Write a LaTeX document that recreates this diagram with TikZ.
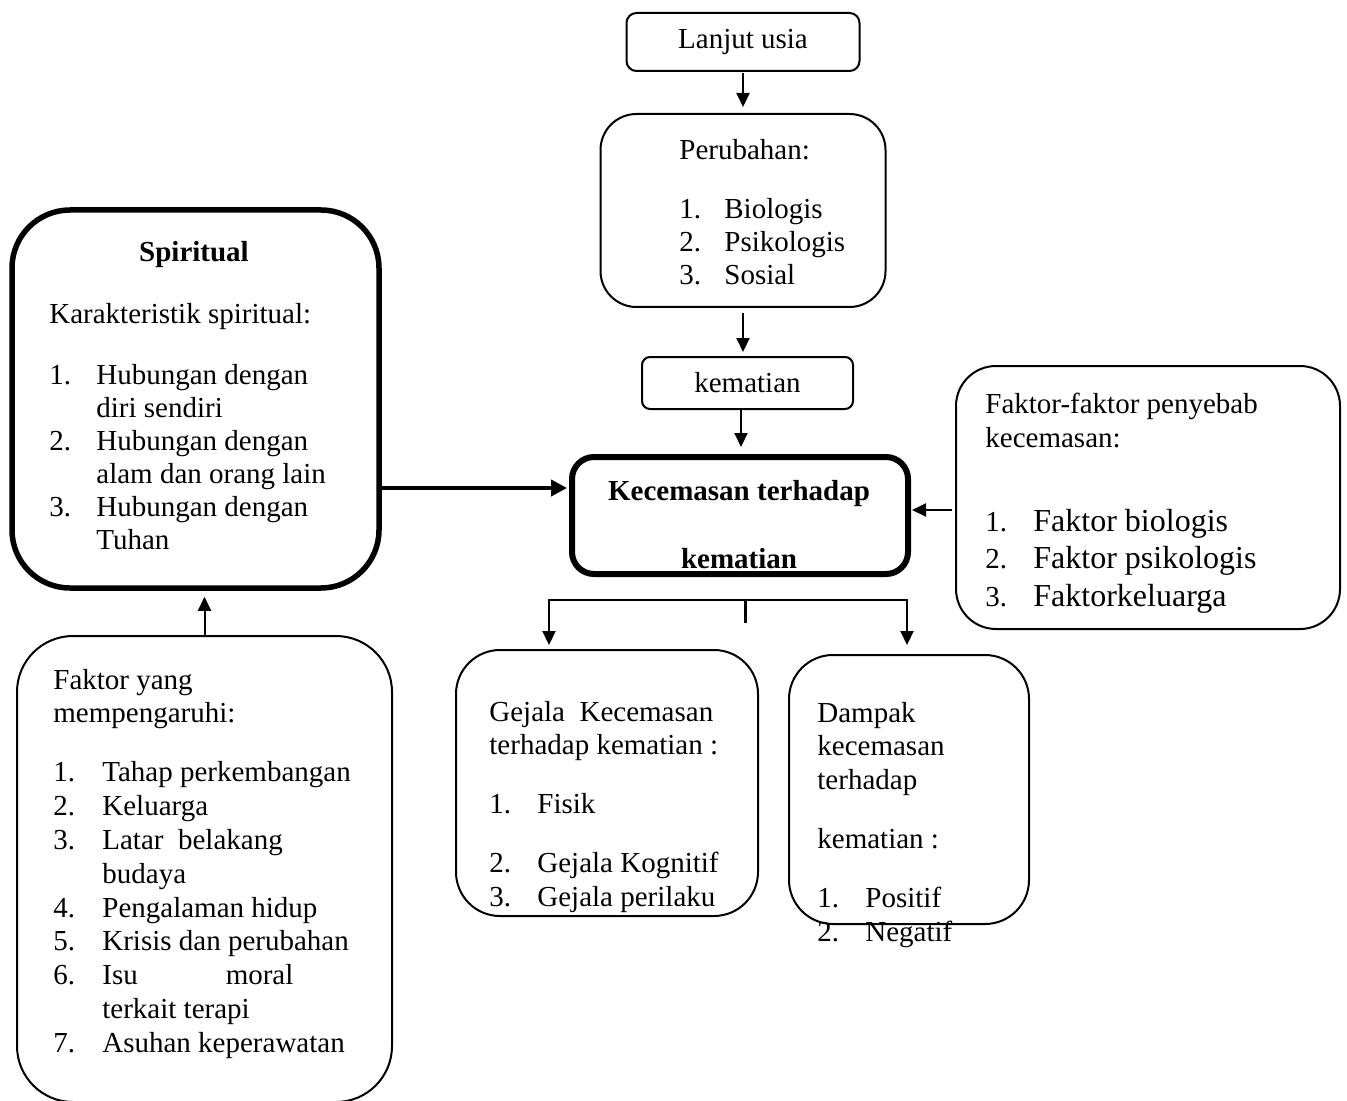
\documentclass[tikz,border=0pt]{standalone}
\usepackage{fontspec}
\setmainfont{Liberation Serif}
\usepackage{array}
\usetikzlibrary{arrows.meta}

\tikzset{
  box/.style={draw, line width=1pt, rounded corners=#1, inner sep=0pt},
  box/.default=20pt,
  bigbox/.style={box=#1, line width=2.75pt},
  txt/.style={inner sep=0pt, anchor=base west},
  arr/.style={line width=1pt, -{Triangle[length=7pt,width=6.5pt]}},
  bigarr/.style={line width=2pt, -{Triangle[length=8pt,width=8pt]}}
}

\begin{document}
\begin{tikzpicture}[x=0.5pt, y=-0.5pt, font=\fontsize{14.5}{16.5}\selectfont]
  \useasboundingbox (0,0) rectangle (1347,1101);

  % Boxes of the main chain
  \node[box=5pt, minimum width=116.5pt, minimum height=29pt] (lanjut) at (743,42) {Lanjut usia};
  \node[box=18pt, minimum width=142.5pt, minimum height=96.5pt] (perubahan) at (743,210.5) {};
  \node[box=4pt, minimum width=105.5pt, minimum height=26pt] (kematian) at (747.5,383) {kematian};
  \node[bigbox=11pt, minimum width=168pt, minimum height=58.5pt, line width=3pt] (kecemasan) at (740,515.5) {};

  % Boxes round it
  \node[bigbox=29pt, minimum width=183.5pt, minimum height=189pt] (spiritual) at (195.5,399) {};
  \node[box=28pt, minimum width=187.5pt, minimum height=233pt] (pengaruh) at (204.5,869) {};
  \node[box=20pt, minimum width=192pt, minimum height=131.5pt] (penyebab) at (1148,497.5) {};
  \node[box=22pt, minimum width=151pt, minimum height=133pt] (gejala) at (607,783) {};
  \node[box=22pt, minimum width=120pt, minimum height=134.5pt] (dampak) at (909,789.5) {};

  % Texts in the boxes
  \node[txt] (tPerubahan) at (679,160) {\begin{tabular}[t]{@{}p{22.5pt}@{}l@{}}
    \multicolumn{2}{@{}l@{}}{Perubahan:}\\[13pt]
    1. & Biologis\\ 2. & Psikologis\\ 3. & Sosial
  \end{tabular}};
  \node[anchor=base, inner sep=0pt] (tKecemasan) at (739,500) {\bfseries\begin{tabular}[t]{@{}c@{}}
    Kecemasan terhadap\\[17.5pt] kematian
  \end{tabular}};
  \node[anchor=base, inner sep=0pt] (tSpiritual) at (194,262) {\bfseries Spiritual};
  \node[txt] (tKarakter) at (49,323) {\begin{tabular}[t]{@{}p{23.5pt}@{}l@{}}
    \multicolumn{2}{@{}l@{}}{Karakteristik spiritual:}\\[14pt]
    1. & Hubungan dengan\\ & diri sendiri\\
    2. & Hubungan dengan\\ & alam dan orang lain\\
    3. & Hubungan dengan\\ & Tuhan
  \end{tabular}};
  \node[txt, font=\fontsize{14.5}{16.9}\selectfont] (tPengaruh) at (53,689) {\begin{tabular}[t]{@{}p{24.5pt}@{}l@{}}
    \multicolumn{2}{@{}l@{}}{Faktor yang}\\
    \multicolumn{2}{@{}l@{}}{mempengaruhi:}\\[12.6pt]
    1. & Tahap perkembangan\\ 2. & Keluarga\\
    3. & Latar\ \ belakang\\ & budaya\\
    4. & Pengalaman hidup\\ 5. & Krisis dan perubahan\\
    6. & \hbox to 95.5pt{Isu\hfill moral}\\ & terkait terapi\\
    7. & Asuhan keperawatan
  \end{tabular}};
  \node[txt, font=\fontsize{14.5}{17}\selectfont] (tPenyebab) at (985,413) {\begin{tabular}[t]{@{}l@{}}
    Faktor-faktor penyebab\\ kecemasan:
  \end{tabular}};
  \node[txt, font=\fontsize{16}{18.75}\selectfont] (tFaktor) at (985,531) {\begin{tabular}[t]{@{}p{24pt}@{}l@{}}
    {\fontsize{14.5}{16.5}\selectfont 1.} & Faktor biologis\\
    {\fontsize{14.5}{16.5}\selectfont 2.} & Faktor psikologis\\
    {\fontsize{14.5}{16.5}\selectfont 3.} & Faktorkeluarga
  \end{tabular}};
  \node[txt, font=\fontsize{14.5}{16.9}\selectfont] (tGejala) at (489,721) {\begin{tabular}[t]{@{}p{24pt}@{}l@{}}
    \multicolumn{2}{@{}l@{}}{Gejala\ \ Kecemasan}\\
    \multicolumn{2}{@{}l@{}}{terhadap kematian :}\\[12.6pt]
    1. & Fisik\\[12.6pt]
    2. & Gejala Kognitif\\ 3. & Gejala perilaku
  \end{tabular}};
  \node[txt, font=\fontsize{14.5}{16.9}\selectfont] (tDampak) at (817,722) {\begin{tabular}[t]{@{}p{24pt}@{}l@{}}
    \multicolumn{2}{@{}l@{}}{Dampak}\\
    \multicolumn{2}{@{}l@{}}{kecemasan}\\
    \multicolumn{2}{@{}l@{}}{terhadap}\\[12.6pt]
    \multicolumn{2}{@{}l@{}}{kematian :}\\[12.6pt]
    1. & Positif\\ 2. & Negatif
  \end{tabular}};

  % Arrows down the chain
  \draw[arr, shorten <=0.5pt, shorten >=3pt] (lanjut.south) -- (perubahan.north);
  \draw[arr, shorten <=2.5pt, shorten >=2pt] (perubahan.south) -- (perubahan.south |- kematian.north);
  \draw[arr, shorten >=3.5pt] ([xshift=-3.25pt]kematian.south) -- ([xshift=-3.25pt]kematian.south |- kecemasan.north);

  % Arrows into the centre
  \draw[bigarr, shorten >=1pt] ([yshift=-44.5pt]spiritual.east) -- ([yshift=-44.5pt]spiritual.east -| kecemasan.west);
  \draw[arr, shorten <=1.5pt, shorten >=0.5pt] ([yshift=-6.25pt]penyebab.west) -- ([yshift=-6.25pt]penyebab.west -| kecemasan.east);
  \draw[arr, shorten >=3pt] (pengaruh.north) -- (pengaruh.north |- spiritual.south);

  % Split to the two boxes below
  \coordinate (split) at (745,600);
  \draw[arr, shorten >=2pt] (split) -| ([xshift=-29pt]gejala.north);
  \draw[arr, shorten >=4.5pt] (split) -| ([xshift=-1pt]dampak.north);
  \draw[line width=1.5pt] (split) -- ++(0,23);
\end{tikzpicture}
\end{document}
